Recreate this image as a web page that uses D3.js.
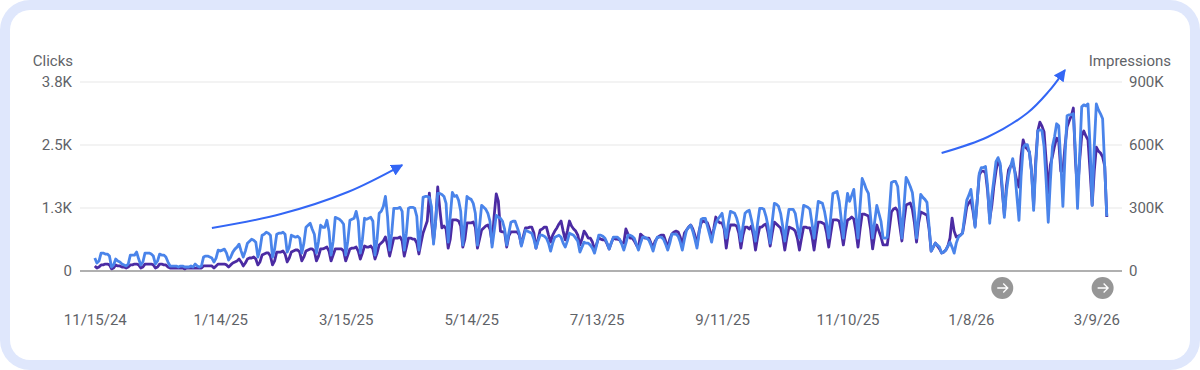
<!DOCTYPE html>
<html>
<head>
<meta charset="utf-8">
<script src="https://cdn.jsdelivr.net/npm/d3@7"></script>
<style>
    html, body { margin: 0; padding: 0; background: #fff; }
    svg { display: block; }
    text { font-family: Roboto, sans-serif; }
</style>
</head>
<body>
<script>
const width = 1200, height = 370;

const startDate = "11/15/24";

// Daily clicks: first Friday, then one row per week (Sat..Fri), then the last Saturday
const clicks = [
    260,
    160,200,360,360,340,340,300,
    80,120,240,200,180,140,120,
    100,140,320,320,320,380,240,
    120,180,360,360,360,340,300,
    140,200,340,320,320,280,180,
    100,100,100,100,80,100,100,
    80,80,80,100,80,140,100,
    80,100,280,300,300,280,260,
    180,260,420,400,420,440,360,
    220,280,380,440,480,540,400,
    280,400,560,600,640,620,580,
    280,440,720,740,780,760,720,
    280,440,740,760,760,780,740,
    380,480,720,700,680,700,660,
    360,560,880,920,960,840,740,
    360,600,920,880,880,1020,800,
    320,600,1080,1060,1040,1000,940,
    320,600,1020,1040,1060,1200,1000,
    360,640,1060,1040,1060,1080,1000,
    320,640,1160,1200,1300,1500,1100,
    420,760,1260,1260,1260,1280,1200,
    420,760,1260,1280,1280,1260,1100,
    420,900,1480,1500,1500,1480,1300,
    540,1000,1560,1560,1540,1500,1360,
    580,1100,1580,1500,1520,1420,1200,
    520,1000,1500,1460,1440,1360,1160,
    520,900,1320,1280,1240,1160,1000,
    480,800,1120,1080,1060,1000,840,
    520,760,980,1000,1000,880,760,
    500,660,820,800,780,760,640,
    460,600,720,720,700,660,560,
    400,560,680,700,720,680,560,
    480,600,760,740,720,660,600,
    380,480,580,560,560,520,460,
    360,520,720,720,700,660,560,
    440,560,680,680,680,640,540,
    420,560,720,720,700,660,540,
    420,560,680,680,660,620,520,
    400,560,680,680,680,640,540,
    420,560,740,740,740,700,580,
    420,640,820,880,920,800,640,
    460,760,1040,1060,1060,900,740,
    580,800,960,1040,1100,1160,900,
    660,960,1200,1180,1160,1060,900,
    600,900,1160,1200,1220,1040,840,
    600,960,1260,1260,1240,1100,900,
    560,1000,1360,1340,1300,1160,900,
    600,960,1240,1240,1240,1160,900,
    660,1000,1320,1300,1280,1240,960,
    660,1040,1400,1380,1360,1200,960,
    660,1100,1560,1580,1600,1400,1040,
    660,1200,1560,1400,1520,1640,1160,
    660,1300,1860,1760,1640,1560,1100,
    660,1000,1320,1160,1000,660,660,
    680,1200,1780,1800,1800,1700,1200,
    660,1300,1880,1800,1700,1580,1200,
    660,1100,1540,1480,1440,1380,900,
    400,480,560,520,480,360,380,
    420,500,580,480,360,560,680,
    720,760,1100,1420,1520,1640,1300,
    880,1400,1960,2080,2080,2100,1700,
    960,1500,1840,2200,2280,2160,1700,
    1080,1600,1920,2100,2260,2000,1500,
    1020,1900,2480,2540,2540,2380,2000,
    1220,2100,2820,2840,2820,2500,1800,
    980,1800,2500,2700,2960,2920,2200,
    1300,2300,3120,3140,3140,3160,2400,
    1260,2300,3300,3340,3320,3360,2500,
    1320,2500,3360,3240,3160,3060,2100,
    1100
];

// Daily impressions in thousands, same layout as clicks
const impressions = [
    24,
    14,19,29,29,33,33,29,
    10,14,29,24,24,19,19,
    14,19,29,29,33,33,29,
    14,19,33,33,33,33,29,
    14,19,33,33,29,29,19,
    14,14,14,14,14,14,14,
    10,14,14,14,14,14,14,
    14,14,24,24,24,24,24,
    14,24,33,33,33,33,29,
    19,29,38,43,48,57,43,
    24,38,57,62,62,67,57,
    29,43,76,81,86,86,71,
    29,48,90,90,90,95,81,
    43,62,90,95,100,100,90,
    48,67,95,100,105,105,95,
    48,71,105,105,109,114,95,
    48,76,105,105,105,105,95,
    48,76,105,109,109,114,95,
    57,86,119,114,114,119,105,
    57,86,124,133,143,162,124,
    71,114,157,157,157,162,143,
    71,114,157,157,152,152,133,
    81,133,181,209,238,371,238,
    143,238,400,295,205,214,200,
    109,152,243,243,243,238,214,
    114,152,229,229,229,233,209,
    109,152,195,205,214,219,200,
    133,262,367,333,190,186,186,
    114,167,186,186,186,186,171,
    124,167,205,205,209,209,181,
    109,152,195,200,209,209,171,
    138,171,190,205,224,238,190,
    148,190,238,214,200,190,171,
    124,152,190,176,157,157,138,
    100,129,157,152,148,148,129,
    105,133,157,152,152,148,133,
    133,200,176,157,157,143,124,
    109,176,167,157,157,157,133,
    114,143,157,167,171,171,143,
    109,152,176,186,190,186,162,
    124,181,195,209,219,200,171,
    124,190,229,238,233,229,200,
    157,200,257,238,229,229,200,
    109,181,219,219,219,214,181,
    109,171,209,209,200,214,171,
    100,162,209,209,219,224,181,
    119,181,233,224,214,205,167,
    100,162,209,205,200,190,157,
    100,157,209,209,205,205,167,
    100,171,233,233,229,224,181,
    114,181,243,243,243,238,190,
    124,190,243,248,257,248,190,
    114,200,271,271,267,262,200,
    105,171,219,190,162,124,124,
    124,200,281,295,300,286,214,
    143,238,314,319,324,295,229,
    138,229,281,276,271,267,200,
    95,114,133,119,105,86,90,
    100,119,157,252,190,162,167,
    171,181,238,305,324,338,286,
    214,333,457,476,476,467,381,
    248,310,405,476,528,500,381,
    267,405,481,500,514,476,428,
    400,547,624,590,581,566,476,
    310,524,667,709,690,662,524,
    371,505,547,595,633,619,476,
    476,595,685,714,738,776,524,
    381,524,643,667,643,624,476,
    314,476,590,571,562,543,500,
    257
];

const xTickLabels = ["11/15/24", "1/14/25", "3/15/25", "5/14/25", "7/13/25", "9/11/25", "11/10/25", "1/8/26", "3/9/26"];
const clickTicks = [0, 1267, 2533, 3800];
const clickTickLabels = ["0", "1.3K", "2.5K", "3.8K"];
const impressionTicks = [0, 300, 600, 900];
const impressionTickLabels = ["0", "300K", "600K", "900K"];
const markerDates = ["1/23/26", "3/12/26"];

// Hand drawn trend arrows, given as [days from start, clicks]
const arrowOne = [[56, 864], [89, 1145], [121, 1588], [147, 2130]];
const arrowTwo = [[405, 2372], [427, 2694], [446, 3177], [456, 3600], [464.5, 4040]];

const parseDate = d3.utcParse("%-m/%-d/%y");
const dayZero = parseDate(startDate);
const dayOf = i => d3.utcDay.offset(dayZero, i);

const x = d3.scaleUtc()
    .domain([dayZero, dayOf(clicks.length - 1)])
    .range([94.8, 1106.8]);

const yClicks = d3.scaleLinear().domain([0, 3800]).range([271, 82]);
const yImpressions = d3.scaleLinear().domain([0, 900]).range([271, 82]);

const svg = d3.select("body")
    .append("svg")
    .attr("width", width)
    .attr("height", height);

// Card frame
svg.append("rect")
    .attr("width", width)
    .attr("height", height)
    .attr("rx", 30)
    .attr("fill", "#dfe7fc");

svg.append("rect")
    .attr("x", 10)
    .attr("y", 10)
    .attr("width", 1180)
    .attr("height", 350)
    .attr("rx", 20)
    .attr("fill", "#fff");

// Gridlines
svg.append("g")
    .selectAll("line")
    .data(clickTicks.slice(1))
    .join("line")
    .attr("x1", 80)
    .attr("x2", 1122)
    .attr("y1", d => yClicks(d))
    .attr("y2", d => yClicks(d))
    .attr("stroke", "#efefef")
    .attr("stroke-width", 1.5);

svg.append("line")
    .attr("x1", 80)
    .attr("x2", 1122)
    .attr("y1", yClicks(0))
    .attr("y2", yClicks(0))
    .attr("stroke", "#b0b0b0")
    .attr("stroke-width", 2);

// Axes, only the labels are kept
function styleAxis(g) {
    g.select(".domain").remove();
    g.selectAll(".tick line").remove();
    g.selectAll("text")
        .attr("font-size", "15px")
        .attr("fill", "#5f6368");
}

svg.append("g")
    .attr("transform", "translate(80,0)")
    .call(d3.axisLeft(yClicks)
        .tickValues(clickTicks)
        .tickFormat((d, i) => clickTickLabels[i])
        .tickSize(0)
        .tickPadding(8))
    .attr("font-family", null)
    .call(styleAxis);

svg.append("g")
    .attr("transform", "translate(1122,0)")
    .call(d3.axisRight(yImpressions)
        .tickValues(impressionTicks)
        .tickFormat((d, i) => impressionTickLabels[i])
        .tickSize(0)
        .tickPadding(7))
    .attr("font-family", null)
    .call(styleAxis);

svg.append("g")
    .attr("transform", "translate(0,302)")
    .call(d3.axisBottom(x)
        .tickValues(xTickLabels.map(parseDate))
        .tickFormat((d, i) => xTickLabels[i])
        .tickSize(0)
        .tickPadding(12))
    .attr("font-family", null)
    .call(styleAxis);

// Axis titles
svg.append("text")
    .attr("x", 73)
    .attr("y", 66)
    .attr("text-anchor", "end")
    .attr("font-size", "15px")
    .attr("fill", "#5f6368")
    .text("Clicks");

svg.append("text")
    .attr("x", 1171)
    .attr("y", 66)
    .attr("text-anchor", "end")
    .attr("font-size", "15px")
    .attr("fill", "#5f6368")
    .text("Impressions");

// Series, impressions sit under clicks
const impressionLine = d3.line()
    .x((d, i) => x(dayOf(i)))
    .y(d => yImpressions(d));

const clickLine = d3.line()
    .x((d, i) => x(dayOf(i)))
    .y(d => yClicks(d));

svg.append("path")
    .attr("d", impressionLine(impressions))
    .attr("fill", "none")
    .attr("stroke", "#4b2ba3")
    .attr("stroke-width", 2.8)
    .attr("stroke-linejoin", "round");

svg.append("path")
    .attr("d", clickLine(clicks))
    .attr("fill", "none")
    .attr("stroke", "#4a84ea")
    .attr("stroke-width", 2.8)
    .attr("stroke-linejoin", "round");

// Trend arrows
const defs = svg.append("defs");
defs.append("marker")
    .attr("id", "arrowhead")
    .attr("viewBox", "0 0 10 10")
    .attr("refX", 9)
    .attr("refY", 5)
    .attr("markerWidth", 12)
    .attr("markerHeight", 12)
    .attr("markerUnits", "userSpaceOnUse")
    .attr("orient", "auto")
    .append("path")
    .attr("d", "M0,0 L10,5 L0,10 Z")
    .attr("fill", "#3366f5");

const arrowLine = d3.line()
    .x(d => x(dayOf(d[0])))
    .y(d => yClicks(d[1]))
    .curve(d3.curveCatmullRom);

svg.append("g")
    .selectAll("path")
    .data([arrowOne, arrowTwo])
    .join("path")
    .attr("d", arrowLine)
    .attr("fill", "none")
    .attr("stroke", "#3366f5")
    .attr("stroke-width", 2)
    .attr("marker-end", "url(#arrowhead)");

// Round annotation markers under the axis
const markers = svg.append("g")
    .selectAll("g")
    .data(markerDates.map(parseDate))
    .join("g")
    .attr("transform", d => `translate(${x(d)},288)`);

markers.append("circle")
    .attr("r", 11)
    .attr("fill", "#969696");

markers.append("path")
    .attr("d", "M-5,0 H5 M1,-4.5 L5.5,0 L1,4.5")
    .attr("fill", "none")
    .attr("stroke", "#fff")
    .attr("stroke-width", 1.3);
</script>
</body>
</html>
